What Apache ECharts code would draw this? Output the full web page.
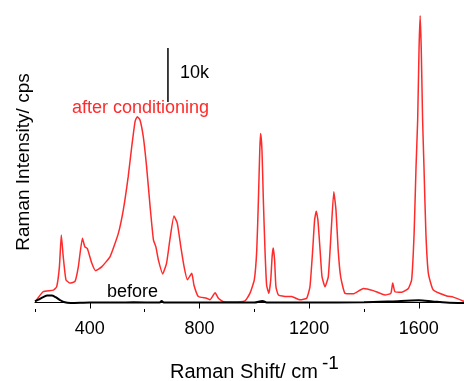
<!DOCTYPE html>
<html>
<head>
<meta charset="utf-8">
<script src="https://cdn.jsdelivr.net/npm/echarts@6/dist/echarts.min.js"></script>
<style>html,body{margin:0;padding:0;background:#fff}#c{width:464px;height:381px}</style>
</head>
<body>
<div id="c"></div>
<script>
// Raman shift (cm-1), intensity (k cps)
const afterShift = [201,206,230,267,279,289,296,303,313,328,346,358,373,382,391,407,421,443,474,504,522,540,553,565,573,583,595,607,620,632,641,650,666,680,692,707,719,732,744,756,772,780,796,826,838,857,869,887,920,966,984,1000,1009,1015,1020,1023,1028,1033,1039,1045,1053,1060,1065,1069,1074,1079,1088,1118,1136,1167,1191,1203,1213,1220,1226,1232,1240,1247,1258,1270,1280,1290,1298,1306,1315,1331,1361,1398,1434,1477,1498,1505,1513,1538,1562,1574,1583,1590,1596,1601,1605,1609,1614,1619,1626,1635,1653,1702,1726,1765];
const afterInt = [0.2,0.5,2.0,2.3,2.9,6.6,12.5,8.5,4.2,3.6,3.9,6.6,11.9,10.3,10.0,7.3,5.9,6.6,8.5,12.8,17.1,23.3,28.9,33.5,34.4,33.8,30.7,25.2,17.7,11.6,10.3,7.9,5.3,7.3,11.6,16.0,14.7,10.3,6.6,4.2,5.4,3.2,1.1,0.8,0.5,1.8,0.8,0.15,0.1,0.3,1.7,4.2,9.7,19.0,28.2,31.3,28.2,19.0,9.7,3.2,1.7,4.2,8.5,10.1,7.9,2.9,1.4,1.1,1.1,0.5,0.8,2.9,9.7,15.3,16.9,15.3,9.7,4.8,2.9,4.8,12.8,20.5,17.1,9.7,4.8,1.7,1.6,2.6,2.2,1.4,1.7,3.6,2.0,1.9,2.6,4.2,12.8,25.1,33.8,47,53.1,47,33.8,25.1,12.8,5.4,2.3,1.2,1.0,0.2];
const beforeShift = [200,215,230,245,261,275,290,305,330,400,500,560,655,662,670,800,1000,1030,1045,1200,1400,1500,1600,1650,1700,1765];
const beforeInt = [0.2,0.6,1.0,1.3,1.3,1.0,0.5,0.1,-0.1,0,0,0.05,0,0.3,0,0,0,0.3,0,0,0.05,0.2,0.4,0.2,0,-0.1];
const scaleBarShift = [685,685];
const scaleBarInt = [37.1,47.1];
const majorTicks = [400,800,1200,1600];
const minorTicks = [200,600,1000,1400];

const zip = (a,b) => a.map((v,i)=>[v,b[i]]);
const font = 'Liberation Sans, Arial, sans-serif';
const chart = echarts.init(document.getElementById('c'));
chart.setOption({
  animation:false,
  grid:{left:35,right:0,top:0,bottom:72},
  xAxis:[{
    type:'value',min:200,max:1765,
    axisLine:{show:true,lineStyle:{color:'#000',width:1}},
    axisTick:{show:true,customValues:majorTicks,length:6,lineStyle:{color:'#000',width:1}},
    axisLabel:{show:true,customValues:majorTicks,fontSize:18,color:'#000',fontFamily:font,margin:11,formatter:v=>String(v)},
    splitLine:{show:false}
  },{
    type:'value',min:200,max:1765,position:'bottom',
    axisLine:{show:false},
    axisTick:{show:true,customValues:minorTicks,length:3,lineStyle:{color:'#000',width:1}},
    axisLabel:{show:false},
    splitLine:{show:false}
  }],
  yAxis:{type:'value',min:-1.2,max:56,show:false},
  series:[
    {type:'line',xAxisIndex:0,data:zip(beforeShift,beforeInt),showSymbol:false,smooth:0.3,lineStyle:{color:'#000',width:2},z:3},
    {type:'line',xAxisIndex:0,data:zip(afterShift,afterInt),showSymbol:false,smooth:0.15,lineStyle:{color:'#ff2a2a',width:1.5},z:2},
    {type:'line',xAxisIndex:0,data:zip(scaleBarShift,scaleBarInt),showSymbol:false,lineStyle:{color:'#000',width:1.5}}
  ],
  graphic:[
    {type:'text',left:72,top:99,style:{text:'after conditioning',fill:'#ff2a2a',font:'18px '+font}},
    {type:'text',left:107,top:283,style:{text:'before',fill:'#000',font:'18px '+font}},
    {type:'text',left:180,top:64,style:{text:'10k',fill:'#000',font:'18px '+font}},
    {type:'text',left:170,top:362,style:{text:'Raman Shift/ cm',fill:'#000',font:'20px '+font}},
    {type:'text',left:322,top:354,style:{text:'-1',fill:'#000',font:'19px '+font}},
    {type:'text',x:33,y:162,rotation:Math.PI/2,style:{text:'Raman Intensity/ cps',fill:'#000',font:'19px '+font,align:'center',verticalAlign:'bottom'}}
  ]
});
</script>
</body>
</html>
